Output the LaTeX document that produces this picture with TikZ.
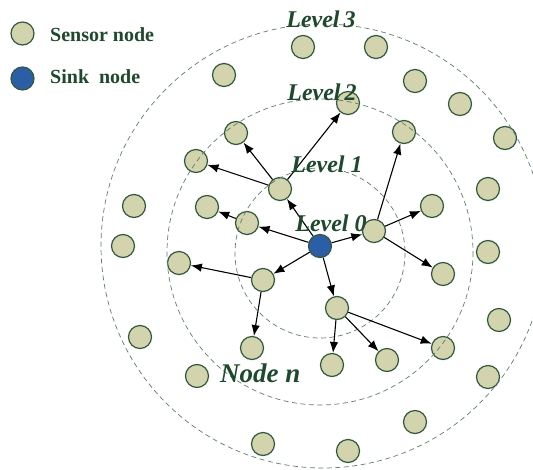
\documentclass[tikz,border=0pt]{standalone}
\usepackage{fontspec}
\setmainfont{Liberation Serif}
\usetikzlibrary{arrows.meta}
\definecolor{nodefill}{HTML}{D3D3AD}
\definecolor{nodeline}{HTML}{2E5B3A}
\definecolor{sinkfill}{HTML}{2C5EA8}
\definecolor{txtgreen}{HTML}{1E4A2C}
\definecolor{ringline}{HTML}{5E7E6E}
\newcommand*{\ndia}{23pt}
\newcommand*{\lvlfont}{\fontsize{24}{24}\selectfont\bfseries\itshape}

\begin{document}
\begin{tikzpicture}[x=1pt, y=-1pt,
    sensor/.style={circle, draw=nodeline, fill=nodefill, line width=1.2pt, minimum size=\ndia, inner sep=0pt},
    sink/.style={sensor, fill=sinkfill},
    ring/.style={draw=ringline, line width=0.7pt, dash pattern=on 5pt off 3.5pt},
    lvl/.style={text=txtgreen, font=\lvlfont, anchor=base, inner sep=0pt},
    legtxt/.style={text=txtgreen, font=\fontsize{20}{20}\selectfont\bfseries, anchor=base west, inner sep=0pt},
    link/.style={-{Latex[length=11pt,width=8.5pt]}, line width=1.1pt, black}]
    \useasboundingbox (0,0) rectangle (533,469);
    % legend
    \node [sensor] (legsensor) at (22.5,33.5) {};
    \node [sink]   (legsink)   at (22.5,78.5) {};
    \node [legtxt] (legsensortxt) at (50,41.5) {Sensor node};
    \node [legtxt] (legsinktxt)   at (50,83.5) {Sink\ \ node};
    % sink and first hop
    \node [sink]   (sink) at (320,246) {};
    \node [sensor] (a) at (280,189) {};
    \node [sensor] (b) at (247,223) {};
    \node [sensor] (c) at (374,231) {};
    \node [sensor] (d) at (263,280) {};
    \node [sensor] (e) at (337,308) {};
    % second hop
    \node [sensor] (a1) at (348,103) {};
    \node [sensor] (a2) at (236,133) {};
    \node [sensor] (a3) at (196,161) {};
    \node [sensor] (b1) at (207,207) {};
    \node [sensor] (c1) at (404,132) {};
    \node [sensor] (c2) at (432,206) {};
    \node [sensor] (c3) at (443,274) {};
    \node [sensor] (d1) at (179,263) {};
    \node [sensor] (d2) at (252,348) {};
    \node [sensor] (e1) at (332,365) {};
    \node [sensor] (e2) at (387,360) {};
    \node [sensor] (e3) at (443,348) {};
    % outer nodes
    \foreach \px/\py [count=\i] in {303/47, 376/47, 224/75, 415/81, 460/104, 505/138, 488/189, 134/206,
        123/246, 488/252, 140/337, 499/320, 197/376, 488/377, 415/422, 263/444, 348/451}
        \node [sensor] (o\i) at (\px,\py) {};
    % levels
    \draw [ring] (320,253) circle (85);
    \draw [ring] (320,252) circle (153);
    \draw [ring] (323,246) circle (222);
    % links
    \foreach \u/\v in {sink/a, sink/b, sink/c, sink/d, sink/e, a/a1, a/a2, a/a3, b/b1,
        c/c1, c/c2, c/c3, d/d1, d/d2, e/e1, e/e2, e/e3}
        \draw [link] (\u) -- (\v);
    \node [lvl] (lvl3) at (321,27) {Level\,3};
    \node [lvl] (lvl2) at (322,100) {Level\,2};
    \node [lvl] (lvl1) at (327,172) {Level 1};
    \node [lvl] (lvl0) at (331,231) {Level 0};
    \node [lvl, anchor=base west, font=\fontsize{27}{27}\selectfont\bfseries\itshape] (noden) at (220,382) {Node n};
\end{tikzpicture}
\end{document}
